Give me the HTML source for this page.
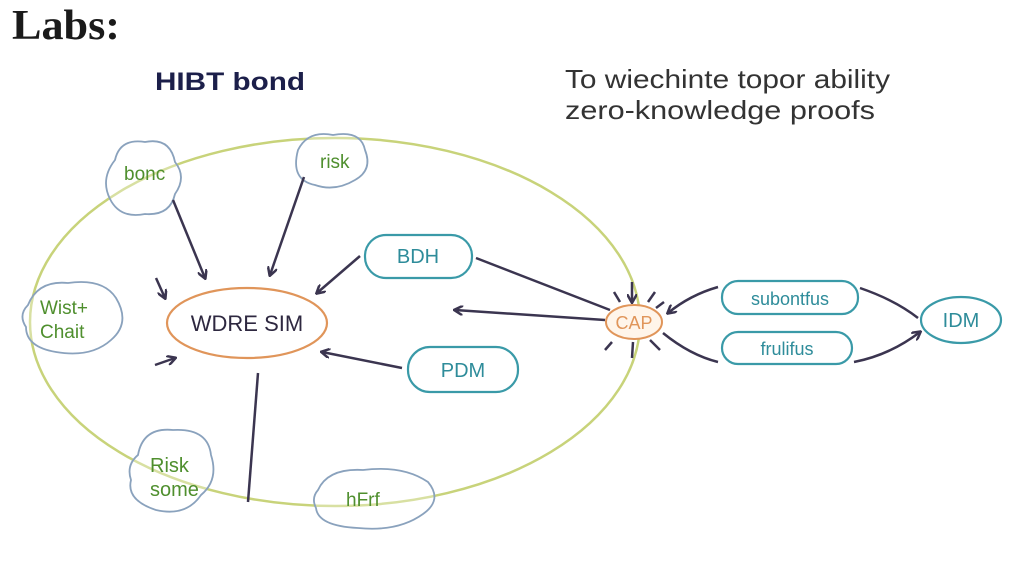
<!DOCTYPE html>
<html><head><meta charset="utf-8"><style>
html,body{margin:0;padding:0;background:#fff;}
svg{display:block;}
text{font-family:"Liberation Sans",sans-serif;}
</style></head><body>
<svg width="1024" height="576" viewBox="0 0 1024 576" xmlns="http://www.w3.org/2000/svg">
<defs>
<marker id="a" markerWidth="10" markerHeight="10" refX="8" refY="5" orient="auto" markerUnits="userSpaceOnUse"><path d="M0,0 L9,5 L0,10" fill="none" stroke="#3b3550" stroke-width="2.5"/></marker>
</defs>
<rect width="1024" height="576" fill="#fff"/>
<text x="12" y="39" font-size="42" font-weight="bold" fill="#1a1a1a" textLength="108" lengthAdjust="spacingAndGlyphs" style="font-family:'Liberation Serif',serif">Labs:</text>
<text x="155" y="90" font-size="25" font-weight="bold" fill="#1c1f4a" textLength="150" lengthAdjust="spacingAndGlyphs">HIBT bond</text>
<text x="565" y="88" font-size="26" fill="#333" textLength="325" lengthAdjust="spacingAndGlyphs">To wiechinte topor ability</text>
<text x="565" y="119" font-size="26" fill="#333" textLength="310" lengthAdjust="spacingAndGlyphs">zero-knowledge proofs</text>

<ellipse cx="335" cy="322" rx="305" ry="184" fill="none" stroke="#c8d37a" stroke-width="2.5"/>

<g fill="#fff" fill-opacity="0.3" stroke="#8aa2bd" stroke-width="1.8">
<path d="M115,160 q5,-22 30,-18 q25,-5 30,20 q12,15 0,32 q-5,22 -30,20 q-25,5 -35,-15 q-10,-20 5,-39z"/>
<path d="M298,150 q10,-20 35,-15 q28,-5 32,15 q8,20 -10,30 q-20,12 -40,5 q-25,-5 -17,-35z"/>
<path d="M28,305 q10,-25 40,-22 q35,-5 48,15 q15,25 -5,42 q-20,18 -55,12 q-30,-5 -30,-25 q-8,-12 2,-22z"/>
<path d="M138,455 q5,-28 35,-25 q35,-2 38,25 q8,25 -10,40 q-15,22 -45,15 q-30,-10 -25,-30 q-5,-15 7,-25z"/>
<path d="M318,490 q10,-22 45,-20 q40,-5 65,12 q15,18 -5,32 q-25,18 -65,14 q-40,-2 -42,-20 q-5,-10 2,-18z"/>
</g>
<g fill="#4f8f2e" font-size="19">
<text x="124" y="180">bonc</text>
<text x="320" y="168">risk</text>
<text x="40" y="314">Wist+</text>
<text x="40" y="338">Chait</text>
<text x="150" y="472" font-size="20">Risk</text>
<text x="150" y="496" font-size="20">some</text>
<text x="346" y="506">hFrf</text>
</g>

<ellipse cx="247" cy="323" rx="80" ry="35" fill="#fff" stroke="#e0955a" stroke-width="2.2"/>
<text x="247" y="331" font-size="22" fill="#2e2840" text-anchor="middle">WDRE SIM</text>

<g fill="#fff" stroke="#3a9aa8" stroke-width="2.2">
<rect x="365" y="235" width="107" height="43" rx="21"/>
<rect x="408" y="347" width="110" height="45" rx="22"/>
<rect x="722" y="281" width="136" height="33" rx="16"/>
<rect x="722" y="332" width="130" height="32" rx="16"/>
<ellipse cx="961" cy="320" rx="40" ry="23"/>
</g>
<g fill="#2e8c9a" font-size="20" text-anchor="middle">
<text x="418" y="263">BDH</text>
<text x="463" y="377">PDM</text>
<text x="790" y="305" font-size="18">subontfus</text>
<text x="787" y="355" font-size="18">frulifus</text>
<text x="961" y="327">IDM</text>
</g>

<ellipse cx="634" cy="322" rx="28" ry="17" fill="#fff5ea" stroke="#e0955a" stroke-width="2"/>
<text x="634" y="329" font-size="18" fill="#e0955a" text-anchor="middle">CAP</text>

<g stroke="#3b3550" stroke-width="2.5" fill="none">
<line x1="173" y1="200" x2="205" y2="278" marker-end="url(#a)"/>
<line x1="304" y1="177" x2="270" y2="275" marker-end="url(#a)"/>
<line x1="156" y1="278" x2="165" y2="298" marker-end="url(#a)"/>
<line x1="155" y1="365" x2="175" y2="358" marker-end="url(#a)"/>
<line x1="360" y1="256" x2="317" y2="293" marker-end="url(#a)"/>
<line x1="402" y1="368" x2="322" y2="352" marker-end="url(#a)"/>
<line x1="258" y1="373" x2="248" y2="502"/>
<line x1="605" y1="320" x2="455" y2="310" marker-end="url(#a)"/>
<line x1="476" y1="258" x2="610" y2="310"/>
<line x1="632" y1="282" x2="632" y2="302" marker-end="url(#a)"/>
<line x1="614" y1="292" x2="620" y2="302"/>
<line x1="655" y1="292" x2="648" y2="302"/>
<line x1="664" y1="302" x2="656" y2="308"/>
<line x1="612" y1="342" x2="605" y2="350"/>
<line x1="633" y1="342" x2="632" y2="358"/>
<line x1="650" y1="340" x2="660" y2="350"/>
<path d="M718,287 Q690,295 668,313" marker-end="url(#a)"/>
<path d="M663,333 Q690,355 718,362"/>
<path d="M860,288 Q895,300 918,318"/>
<path d="M854,362 Q890,355 920,332" marker-end="url(#a)"/>
</g>
</svg>
</body></html>
